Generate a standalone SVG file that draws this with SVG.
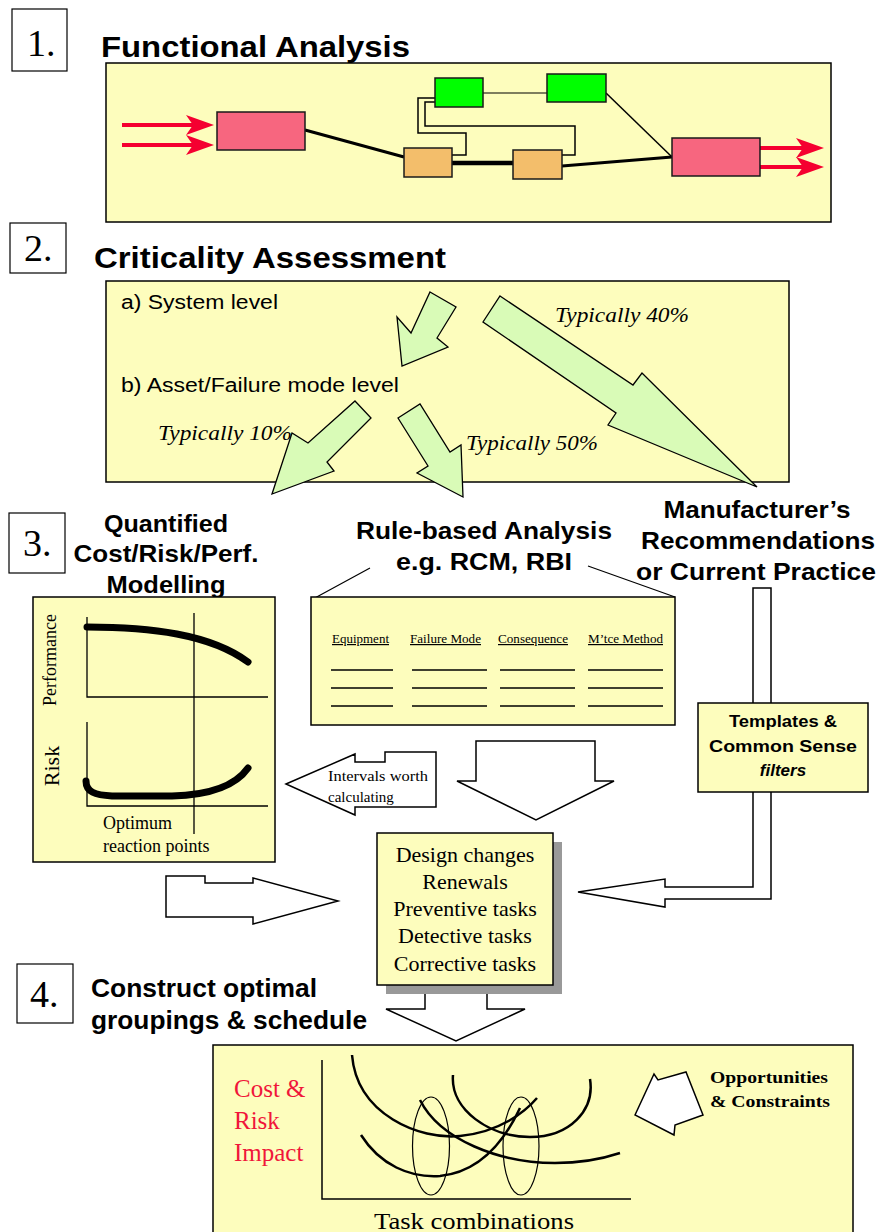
<svg xmlns="http://www.w3.org/2000/svg" width="876" height="1232" viewBox="0 0 876 1232">
<defs>
<style>
.box{fill:#FDFDBD;stroke:#000;stroke-width:1.5}
.nb{fill:#fff;stroke:#000;stroke-width:1.2}
.num{font-family:"Liberation Serif",serif;font-size:38px;fill:#000}
.h{font-family:"Liberation Sans",Arial,sans-serif;font-weight:bold;fill:#000}
.sans{font-family:"Liberation Sans",Arial,sans-serif;fill:#000}
.s{font-family:"Liberation Serif",serif;fill:#000}
.it{font-family:"Liberation Serif",serif;font-style:italic;font-size:20px;fill:#000}
.wa{fill:#fff;stroke:#000;stroke-width:1.5;stroke-linejoin:miter}
.ga{fill:#D9FBB7;stroke:#000;stroke-width:1.3;stroke-linejoin:miter}
.ln{fill:none;stroke:#000}
.red{fill:none;stroke:#F50030;stroke-width:4}
.pink{fill:#F7667F;stroke:#1a1a1a;stroke-width:1.5}
.org{fill:#F3BE6B;stroke:#1a1a1a;stroke-width:1.5}
.grn{fill:#00FF00;stroke:#1a1a1a;stroke-width:1.5}
.curve{fill:none;stroke:#000;stroke-width:2.5}
.thick{fill:none;stroke:#000;stroke-width:7;stroke-linecap:round}
.tbl{font-family:"Liberation Serif",serif;font-size:12px;text-decoration:underline}
</style>
<marker id="rh" viewBox="0 0 28 20" refX="19" refY="10" markerWidth="28" markerHeight="20" markerUnits="userSpaceOnUse" orient="auto">
<path d="M0,0 L28,10 L0,20 L7,10 z" fill="#F50030"/>
</marker>
</defs>
<rect width="876" height="1232" fill="#fff"/>

<!-- Section 1 -->
<g id="step1">
<rect class="nb" x="12" y="9" width="55" height="62"/>
<text class="num" x="27" y="56">1.</text>
<text class="h" x="101" y="57" font-size="29" textLength="309" lengthAdjust="spacingAndGlyphs">Functional Analysis</text>
</g>
<g id="functional-box"><rect class="box" x="106" y="63" width="725" height="159"/></g>

<g id="connectors">
<!-- functional analysis links -->
<path class="ln" stroke-width="3" d="M305,130 L404,157"/>
<path class="ln" stroke-width="4.5" d="M452,163 L513,163"/>
<path class="ln" stroke-width="3" d="M562,166 L672,157"/>
<path class="ln" stroke-width="1.2" d="M483,93 L547,93"/>
<path class="ln" stroke-width="1.5" d="M606,93 L672,157"/>
<path class="ln" stroke-width="1.5" d="M435,98 H418 V133 H466 V155 H452"/>
<path class="ln" stroke-width="1.5" d="M435,102 H425 V126 H575 V155 H562"/>
<path class="red" d="M122,125 H205" marker-end="url(#rh)"/>
<path class="red" d="M122,145 H205" marker-end="url(#rh)"/>
<path class="red" d="M760,148 H815" marker-end="url(#rh)"/>
<path class="red" d="M760,167 H815" marker-end="url(#rh)"/>
</g>

<g id="fa-in"><rect class="pink" x="217" y="112" width="88" height="38"/></g>
<g id="fa-o1"><rect class="org" x="404" y="148" width="48" height="29"/></g>
<g id="fa-o2"><rect class="org" x="513" y="150" width="49" height="29"/></g>
<g id="fa-g1"><rect class="grn" x="435" y="78" width="48" height="29"/></g>
<g id="fa-g2"><rect class="grn" x="547" y="74" width="59" height="28"/></g>
<g id="fa-out"><rect class="pink" x="672" y="138" width="88" height="38"/></g>

<!-- Section 2 -->
<g id="step2">
<rect class="nb" x="10" y="223" width="56" height="50"/>
<text class="num" x="24" y="261">2.</text>
<text class="h" x="94" y="268" font-size="29" textLength="352" lengthAdjust="spacingAndGlyphs">Criticality Assessment</text>
</g>
<g id="criticality-box">
<rect class="box" x="106" y="281" width="683" height="201"/>
<text class="sans" x="121" y="309" font-size="20" textLength="157" lengthAdjust="spacingAndGlyphs">a) System level</text>
<text class="sans" x="121" y="392" font-size="20" textLength="278" lengthAdjust="spacingAndGlyphs">b) Asset/Failure mode level</text>
</g>

<g id="green-arrows">
<polygon class="ga" points="430,292 456,307 437,338 448,347 402,366 397,317 411,333"/>
<polygon class="ga" points="500,296 633,385 642,373 757,487 608,425 616,413 483,322"/>
<polygon class="ga" points="355,401 371,418 327,462 334,471 272,494 292,433 308,443"/>
<polygon class="ga" points="398,418 420,404 450,452 461,445 463,497 417,473 428,466"/>
<text class="it" x="555" y="322" textLength="134" lengthAdjust="spacingAndGlyphs">Typically 40%</text>
<text class="it" x="158" y="440" textLength="134" lengthAdjust="spacingAndGlyphs">Typically 10%</text>
<text class="it" x="466" y="450" textLength="132" lengthAdjust="spacingAndGlyphs">Typically 50%</text>
</g>

<!-- Section 3 -->
<g id="step3">
<rect class="nb" x="9" y="513" width="56" height="60"/>
<text class="num" x="23" y="556">3.</text>
</g>
<g id="quantified-title">
<text class="h" x="166" y="532" font-size="24" text-anchor="middle" textLength="124" lengthAdjust="spacingAndGlyphs">Quantified</text>
<text class="h" x="166" y="562" font-size="24" text-anchor="middle" textLength="185" lengthAdjust="spacingAndGlyphs">Cost/Risk/Perf.</text>
<text class="h" x="166" y="593" font-size="24" text-anchor="middle" textLength="119" lengthAdjust="spacingAndGlyphs">Modelling</text>
</g>
<g id="rule-title">
<text class="h" x="484" y="539" font-size="24" text-anchor="middle" textLength="256" lengthAdjust="spacingAndGlyphs">Rule-based Analysis</text>
<text class="h" x="484" y="570" font-size="24" text-anchor="middle" textLength="176" lengthAdjust="spacingAndGlyphs">e.g. RCM, RBI</text>
<path class="ln" stroke-width="1.2" d="M313,599 L370,568 M588,566 L675,597"/>
</g>
<g id="manufacturer-title">
<text class="h" x="757" y="518" font-size="24" text-anchor="middle" textLength="187" lengthAdjust="spacingAndGlyphs">Manufacturer’s</text>
<text class="h" x="758" y="549" font-size="24" text-anchor="middle" textLength="234" lengthAdjust="spacingAndGlyphs">Recommendations</text>
<text class="h" x="756" y="580" font-size="24" text-anchor="middle" textLength="240" lengthAdjust="spacingAndGlyphs">or Current Practice</text>
</g>

<g id="quantified-box">
<rect class="box" x="33" y="597" width="242" height="265"/>
<path class="ln" stroke-width="1.3" d="M87,617 V697 H268 M87,722 V806 H268 M194,613 V834"/>
<path class="thick" d="M87,627 C150,627 210,634 248,662"/>
<path class="thick" d="M86,781 C86,792 95,795 112,796 L172,796 C212,795 236,785 248,768"/>
<text class="s" font-size="18" text-anchor="middle" transform="translate(56,660) rotate(-90)">Performance</text>
<text class="s" font-size="22" text-anchor="middle" transform="translate(59,766) rotate(-90)">Risk</text>
<text class="s" x="103" y="829" font-size="18">Optimum</text>
<text class="s" x="103" y="852" font-size="18">reaction points</text>
</g>

<g id="rule-table">
<rect class="box" x="311" y="597" width="364" height="128"/>
<text class="tbl" x="332" y="643" textLength="57" lengthAdjust="spacingAndGlyphs">Equipment</text>
<text class="tbl" x="410" y="643" textLength="71" lengthAdjust="spacingAndGlyphs">Failure Mode</text>
<text class="tbl" x="498" y="643" textLength="70" lengthAdjust="spacingAndGlyphs">Consequence</text>
<text class="tbl" x="588" y="643" textLength="75" lengthAdjust="spacingAndGlyphs">M’tce Method</text>
<path class="ln" stroke-width="1.5" d="M331,670 H393 M412,670 H487 M500,670 H575 M588,670 H663 M331,688 H393 M412,688 H487 M500,688 H575 M588,688 H663 M331,706 H393 M412,706 H487 M500,706 H575 M588,706 H663"/>
</g>

<g id="manufacturer-path">
<polygon class="wa" points="753,588 771,588 771,899 665,899 665,907 578,892 665,879 665,887 753,887"/>
</g>
<g id="templates-box">
<rect class="box" x="698" y="703" width="170" height="89"/>
<text class="h" x="783" y="727" font-size="17" text-anchor="middle" textLength="108" lengthAdjust="spacingAndGlyphs">Templates &amp;</text>
<text class="h" x="783" y="752" font-size="17" text-anchor="middle" textLength="148" lengthAdjust="spacingAndGlyphs">Common Sense</text>
<text class="h" x="783" y="776" font-size="17" font-style="italic" text-anchor="middle">filters</text>
</g>

<g id="block-arrows">
<polygon class="wa" points="286,784 355,754 355,762 385,762 385,752 436,752 436,807 355,807 355,815"/>
<text class="s" x="328" y="781" font-size="15" textLength="100" lengthAdjust="spacingAndGlyphs">Intervals worth</text>
<text class="s" x="328" y="802" font-size="15">calculating</text>
<polygon class="wa" points="476,741 595,741 595,781 614,781 536,820 457,781 476,781"/>
<polygon class="wa" points="166,876 205,876 205,883 253,883 253,878 338,901 253,924 253,917 166,917"/>
<polygon class="wa" points="425,984 487,984 487,1009 525,1009 456,1041 386,1009 425,1009"/>
</g>

<g id="tasks-box">
<rect x="386" y="842" width="176" height="152" fill="#999"/>
<rect class="box" x="377" y="833" width="176" height="152"/>
<g class="s" font-size="22" text-anchor="middle">
<text x="465" y="862">Design changes</text>
<text x="465" y="889">Renewals</text>
<text x="465" y="916">Preventive tasks</text>
<text x="465" y="943">Detective tasks</text>
<text x="465" y="971">Corrective tasks</text>
</g>
</g>

<!-- Section 4 -->
<g id="step4">
<rect class="nb" x="17" y="964" width="56" height="59"/>
<text class="num" x="30" y="1007">4.</text>
<text class="h" x="91" y="997" font-size="25" textLength="226" lengthAdjust="spacingAndGlyphs">Construct optimal</text>
<text class="h" x="91" y="1029" font-size="25" textLength="276" lengthAdjust="spacingAndGlyphs">groupings &amp; schedule</text>
</g>

<g id="schedule-box">
<rect class="box" x="213" y="1045" width="640" height="200"/>
<path class="ln" stroke-width="1.5" d="M322,1060 V1199 H631"/>
<path class="curve" d="M352,1055 C357,1115 420,1140 460,1136 C500,1132 525,1112 537,1098"/>
<path class="curve" d="M453,1075 C450,1110 490,1137 530,1137 C570,1137 595,1110 590,1079"/>
<path class="curve" d="M420,1100 C440,1140 500,1163 555,1163 C585,1163 605,1158 620,1153"/>
<path class="curve" d="M361,1135 C380,1165 410,1178 440,1176 C480,1172 505,1140 520,1108"/>
<ellipse class="ln" stroke-width="1.2" cx="431" cy="1146" rx="18.5" ry="49"/>
<ellipse class="ln" stroke-width="1.2" cx="521" cy="1146" rx="18" ry="49"/>
<g class="s" font-size="25" fill="#F0163A">
<text x="234" y="1097" fill="#F0163A">Cost &amp;</text>
<text x="234" y="1129" fill="#F0163A">Risk</text>
<text x="234" y="1161" fill="#F0163A">Impact</text>
</g>
<text class="s" x="474" y="1229" font-size="24" text-anchor="middle" textLength="200" lengthAdjust="spacingAndGlyphs">Task combinations</text>
<polygon class="wa" points="635,1115 654,1074 658,1080 686,1072 703,1115 675,1125 674,1135"/>
<text class="s" x="710" y="1083" font-size="17" font-weight="bold" textLength="118" lengthAdjust="spacingAndGlyphs">Opportunities</text>
<text class="s" x="710" y="1107" font-size="17" font-weight="bold" textLength="120" lengthAdjust="spacingAndGlyphs">&amp; Constraints</text>
</g>
</svg>
